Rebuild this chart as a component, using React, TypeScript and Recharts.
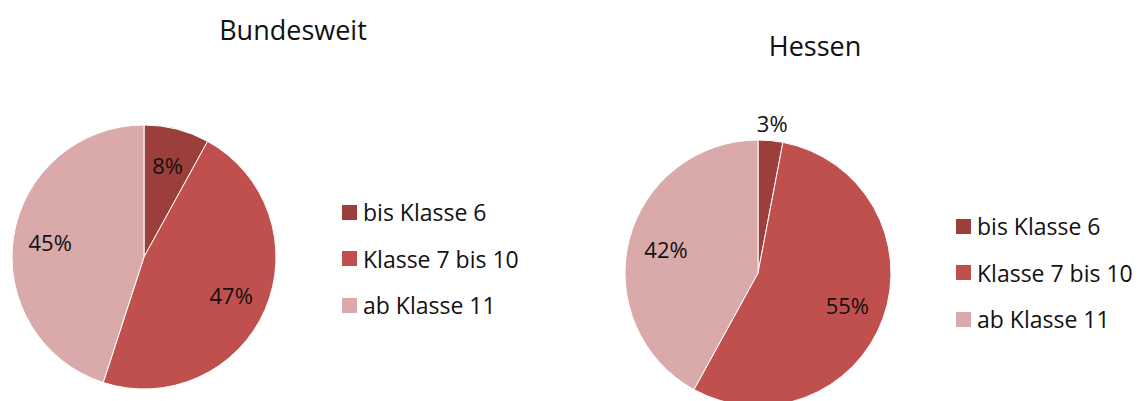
import { PieChart, Pie, Cell } from "recharts";

const categories = ["bis Klasse 6", "Klasse 7 bis 10", "ab Klasse 11"];
const bundesweitValues = [8, 47, 45];
const hessenValues = [3, 55, 42];
const sliceColors = ["#9C3E3C", "#C0504D", "#D9AAA9"];

const FONT = "'Open Sans', 'DejaVu Sans', sans-serif";
const RADIAN = Math.PI / 180;

const bundesweitData = categories.map((name, i) => ({ name, value: bundesweitValues[i] }));
const hessenData = categories.map((name, i) => ({ name, value: hessenValues[i] }));

const renderLabel = (props: any) => {
  const { cx, cy, midAngle, outerRadius, percent, value } = props;
  // small slices get their label outside the pie
  const r = percent < 0.05 ? outerRadius + 18 : 95;
  const x = cx + r * Math.cos(-midAngle * RADIAN);
  const y = cy + r * Math.sin(-midAngle * RADIAN);
  return (
    <text
      x={x}
      y={y}
      fill="#111"
      fontSize={22}
      fontFamily={FONT}
      textAnchor="middle"
      dominantBaseline="central"
    >
      {`${value}%`}
    </text>
  );
};

function PieLegend({ left, top }: { left: number; top: number }) {
  return (
    <div style={{ position: "absolute", left, top, fontFamily: FONT }}>
      {categories.map((name, i) => (
        <div key={name} style={{ display: "flex", alignItems: "center", height: 46.5 }}>
          <span
            style={{
              display: "inline-block",
              width: 15,
              height: 15,
              background: sliceColors[i],
              marginRight: 6,
            }}
          />
          <span style={{ fontSize: 23, color: "#111" }}>{name}</span>
        </div>
      ))}
    </div>
  );
}

interface PanelProps {
  title: string;
  data: { name: string; value: number }[];
  width: number;
  cx: number;
  cy: number;
  radius: number;
  titleX: number;
  titleY: number;
  legendLeft: number;
  legendTop: number;
}

function PiePanel(p: PanelProps) {
  return (
    <div style={{ position: "relative", width: p.width, height: 401 }}>
      <div
        style={{
          position: "absolute",
          left: p.titleX - 100,
          width: 200,
          top: p.titleY - 18,
          textAlign: "center",
          fontFamily: FONT,
          fontSize: 27,
          color: "#111",
          lineHeight: "36px",
        }}
      >
        {p.title}
      </div>
      <PieChart width={p.width} height={401} margin={{ top: 0, right: 0, bottom: 0, left: 0 }}>
        <Pie
          data={p.data}
          dataKey="value"
          nameKey="name"
          cx={p.cx}
          cy={p.cy}
          outerRadius={p.radius}
          startAngle={90}
          endAngle={-270}
          stroke="#fff"
          strokeWidth={1}
          label={renderLabel}
          labelLine={false}
          isAnimationActive={false}
        >
          {p.data.map((d, i) => (
            <Cell key={d.name} fill={sliceColors[i]} />
          ))}
        </Pie>
      </PieChart>
      <PieLegend left={p.legendLeft} top={p.legendTop} />
    </div>
  );
}

export default function App() {
  return (
    <div style={{ display: "flex", width: 1139, height: 401, background: "#fff", overflow: "hidden" }}>
      <style>{`body{margin:0}`}</style>
      <PiePanel
        title="Bundesweit"
        data={bundesweitData}
        width={570}
        cx={144}
        cy={257}
        radius={132}
        titleX={293}
        titleY={30}
        legendLeft={342}
        legendTop={189}
      />
      <PiePanel
        title="Hessen"
        data={hessenData}
        width={569}
        cx={188}
        cy={273}
        radius={133}
        titleX={245}
        titleY={46}
        legendLeft={386}
        legendTop={203}
      />
    </div>
  );
}
